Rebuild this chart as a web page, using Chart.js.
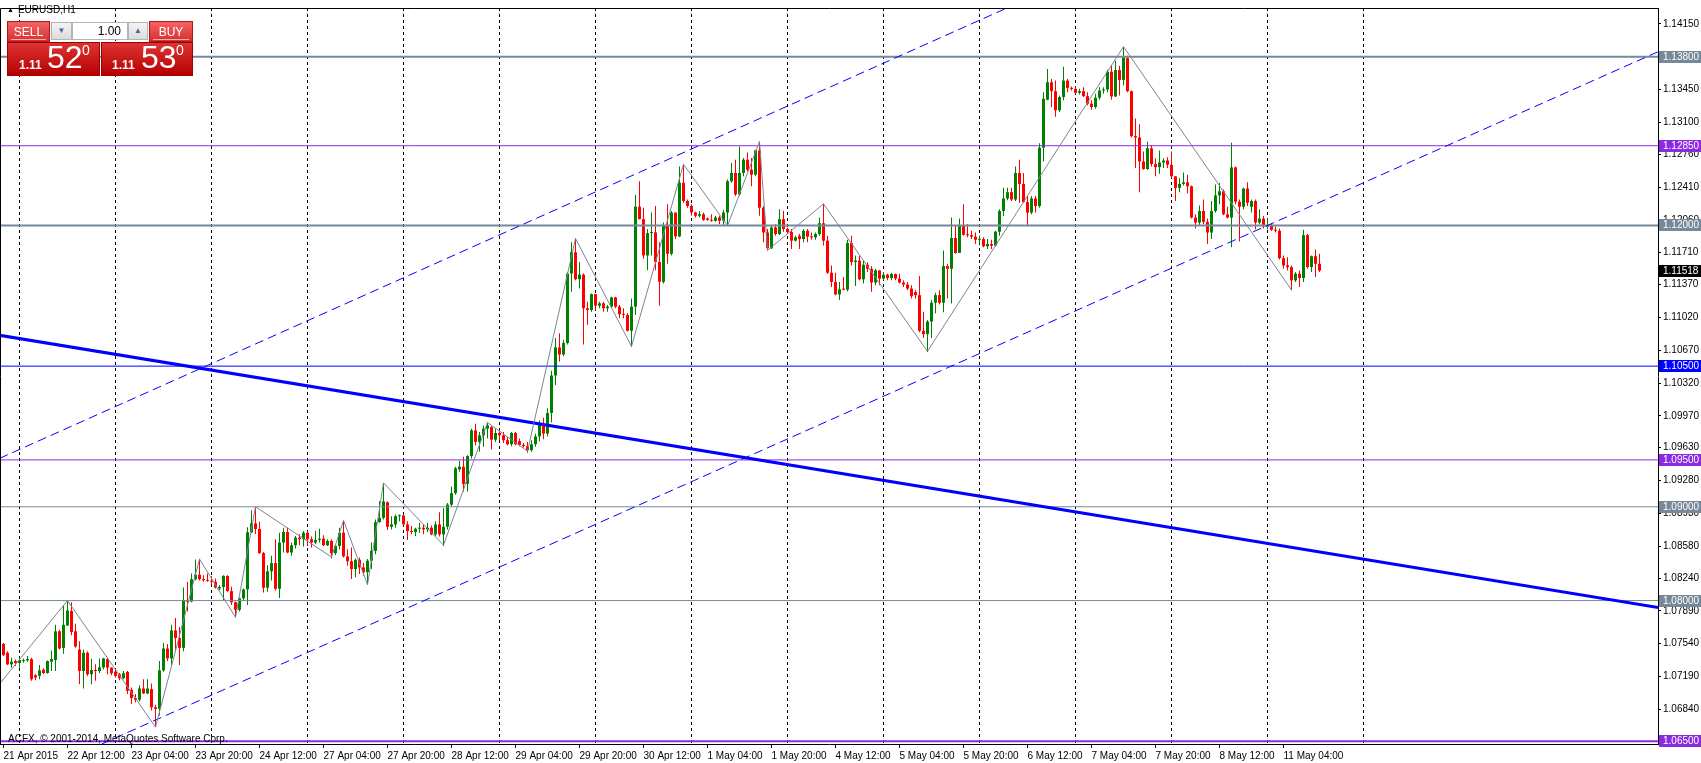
<!DOCTYPE html>
<html>
<head>
<meta charset="utf-8">
<title>EURUSD,H1</title>
<script src="https://cdn.jsdelivr.net/npm/chart.js@4.4.1/dist/chart.umd.min.js"></script>
<style>
  body { margin: 0; background: #fff; }
  #wrap { position: relative; width: 1701px; height: 763px; overflow: hidden; font-family: "Liberation Sans", Arial, sans-serif; }
  #chart { display: block; }
  .ov { position: absolute; white-space: nowrap; color: #fff; }
  #symbol { left: 7px; top: 4px; color: #000; font-size: 10px; }
  #symbol span { font-size: 7px; margin-right: 4px; vertical-align: 1px; }
  .top { top: 21px; height: 21px; line-height: 20px; font-size: 12px; text-align: center;
         background: linear-gradient(#f46464, #d83030); border: 1px solid #b01818; box-sizing: border-box; }
  .top div { position: absolute; left: 3px; right: 3px; bottom: 1px; border-bottom: 1px solid #f6b0b0; }
  .low { top: 42px; height: 34px; background: linear-gradient(#de3434, #b60000); border: 1px solid #9c0000; box-sizing: border-box; }
  .lot { top: 22px; height: 18px; box-sizing: border-box; border: 1px solid #b4b4b4; }
  .arr { background: linear-gradient(#f4f4f4, #dcdcdc); color: #5060a0; font-size: 8px; text-align: center; line-height: 16px; }
  #copy { left: 8px; top: 733px; color: #000; font-size: 10px; }
</style>
</head>
<body>
<div id="wrap">
  <canvas id="chart" width="1701" height="763"></canvas>

  <div class="ov" id="symbol"><span>&#9650;</span>EURUSD,H1</div>

  <div class="ov top" style="left:7px;width:43px;">SELL<div></div></div>
  <div class="ov lot arr" style="left:51px;width:21px;">&#9660;</div>
  <div class="ov lot" style="left:72px;width:56px;background:#fff;color:#000;font-size:12px;text-align:right;padding-right:6px;line-height:16px;">1.00</div>
  <div class="ov lot arr" style="left:128px;width:20px;">&#9650;</div>
  <div class="ov top" style="left:149px;width:44px;">BUY<div></div></div>

  <div class="ov low" style="left:7px;width:93px;"></div>
  <div class="ov low" style="left:101px;width:92px;"></div>
  <div class="ov" style="left:19px;top:58px;font-size:12px;font-weight:bold;">1.11</div>
  <div class="ov" style="left:47px;top:41px;font-size:32px;line-height:32px;">52</div>
  <div class="ov" style="left:82px;top:43px;font-size:14px;line-height:14px;">0</div>
  <div class="ov" style="left:112px;top:58px;font-size:12px;font-weight:bold;">1.11</div>
  <div class="ov" style="left:141px;top:41px;font-size:32px;line-height:32px;">53</div>
  <div class="ov" style="left:176px;top:43px;font-size:14px;line-height:14px;">0</div>

  <div class="ov" id="copy">ACFX, &copy; 2001-2014, MetaQuotes Software Corp.</div>
</div>

<script>
// EURUSD H1 bars, bar 0 = 21 Apr 2015 20:00
const opens = [
  1.07538,1.07443,1.07320,1.07355,1.07334,1.07355,1.07362,1.07376,1.07204,1.07197,
  1.07263,1.07228,1.07348,1.07366,1.07672,1.07496,1.07735,1.07890,1.07672,1.07478,
  1.07249,1.07443,1.07214,1.07260,1.07249,1.07288,1.07376,1.07285,1.07242,1.07214,
  1.07172,1.07239,1.07049,1.06961,1.06943,1.07063,1.07010,1.07056,1.06862,1.06845,
  1.07256,1.07489,1.07383,1.07682,1.07601,1.07496,1.08006,1.07989,1.08228,1.08277,
  1.08228,1.08218,1.08210,1.08200,1.08130,1.08144,1.08263,1.08101,1.07982,1.07901,
  1.08024,1.08119,1.08728,1.08823,1.08763,1.08506,1.08137,1.08312,1.08400,1.08126,
  1.08618,1.08731,1.08513,1.08590,1.08671,1.08654,1.08724,1.08654,1.08618,1.08647,
  1.08661,1.08590,1.08636,1.08506,1.08583,1.08724,1.08471,1.08420,1.08337,1.08435,
  1.08354,1.08302,1.08425,1.08530,1.08837,1.08882,1.09048,1.08787,1.08812,1.08900,
  1.08907,1.08812,1.08741,1.08730,1.08766,1.08777,1.08759,1.08777,1.08706,1.08812,
  1.08706,1.08787,1.09023,1.09146,1.09400,1.09428,1.09245,1.09541,1.09815,1.09692,
  1.09762,1.09833,1.09850,1.09716,1.09787,1.09762,1.09710,1.09667,1.09787,1.09700,
  1.09660,1.09646,1.09604,1.09667,1.09750,1.09880,1.09780,1.10000,1.10400,1.10700,
  1.10624,1.10747,1.11487,1.11715,1.11427,1.11476,1.11117,1.11099,1.11268,1.11145,
  1.11169,1.11117,1.11134,1.11233,1.11134,1.11053,1.11046,1.10877,1.11134,1.12201,
  1.12067,1.11680,1.11919,1.11926,1.11610,1.11399,1.11997,1.11698,1.12138,1.11884,
  1.12455,1.12261,1.12208,1.12138,1.12103,1.12120,1.12074,1.12060,1.12050,1.12085,
  1.12050,1.12138,1.12472,1.12560,1.12331,1.12560,1.12701,1.12595,1.12542,1.12800,
  1.12190,1.11926,1.11757,1.11979,1.11909,1.12067,1.11962,1.11930,1.11838,1.11890,
  1.11855,1.11943,1.11880,1.11873,1.11908,1.12024,1.11838,1.11496,1.11398,1.11264,
  1.11327,1.11315,1.11813,1.11609,1.11626,1.11426,1.11581,1.11538,1.11391,1.11521,
  1.11433,1.11475,1.11440,1.11482,1.11433,1.11391,1.11370,1.11327,1.11290,1.11257,
  1.10877,1.10841,1.10975,1.11176,1.11257,1.11176,1.11567,1.11538,1.11866,1.11707,
  1.12006,1.11901,1.11897,1.11880,1.11848,1.11855,1.11778,1.11802,1.11785,1.11933,
  1.12154,1.12288,1.12355,1.12277,1.12559,1.12443,1.12249,1.12137,1.12288,1.12207,
  1.12830,1.13341,1.13527,1.13432,1.13228,1.13369,1.13545,1.13467,1.13457,1.13414,
  1.13432,1.13379,1.13298,1.13263,1.13362,1.13439,1.13450,1.13640,1.13376,1.13657,
  1.13552,1.13784,1.13432,1.12953,1.12939,1.12682,1.12601,1.12823,1.12654,1.12622,
  1.12672,1.12693,1.12647,1.12524,1.12401,1.12443,1.12460,1.12418,1.12084,1.12031,
  1.12154,1.12038,1.11925,1.12154,1.12320,1.12365,1.12119,1.12084,1.12619,1.12253,
  1.12200,1.12394,1.12200,1.12260,1.12031,1.12073,1.11988,1.12006,1.11953,1.11943,
  1.11651,1.11574,1.11556,1.11415,1.11485,1.11440,1.11897,1.11556,1.11672,1.11591
];
const highs = [
  1.07549,1.07461,1.07390,1.07373,1.07397,1.07383,1.07408,1.07390,1.07214,1.07313,
  1.07278,1.07362,1.07468,1.07742,1.07689,1.07946,1.07996,1.07982,1.07753,1.07566,
  1.07478,1.07461,1.07380,1.07320,1.07383,1.07390,1.07390,1.07288,1.07249,1.07228,
  1.07249,1.07249,1.07074,1.07003,1.07098,1.07161,1.07161,1.07116,1.06890,1.07355,
  1.07549,1.07538,1.07742,1.07813,1.07718,1.08140,1.08200,1.08288,1.08439,1.08446,
  1.08270,1.08288,1.08260,1.08235,1.08165,1.08270,1.08270,1.08147,1.07989,1.08031,
  1.08130,1.08781,1.08964,1.08992,1.08840,1.08517,1.08376,1.08478,1.08654,1.08724,
  1.08777,1.08777,1.08618,1.08689,1.08706,1.08741,1.08741,1.08682,1.08741,1.08766,
  1.08696,1.08654,1.08650,1.08590,1.08777,1.08847,1.08548,1.08566,1.08450,1.08460,
  1.08400,1.08443,1.08618,1.08865,1.09058,1.09255,1.09058,1.08900,1.08917,1.08917,
  1.08917,1.08847,1.08794,1.08777,1.08830,1.08812,1.08830,1.08801,1.08847,1.08942,
  1.08988,1.09041,1.09217,1.09428,1.09491,1.09534,1.09551,1.09833,1.09886,1.09798,
  1.09868,1.09899,1.09860,1.09833,1.09815,1.09798,1.09745,1.09798,1.09798,1.09727,
  1.09681,1.09692,1.09710,1.09780,1.09920,1.09950,1.10050,1.10450,1.10800,1.10850,
  1.10782,1.11504,1.11821,1.11863,1.11610,1.11487,1.11187,1.11275,1.11268,1.11187,
  1.11187,1.11152,1.11240,1.11240,1.11152,1.11117,1.11064,1.11222,1.12324,1.12472,
  1.12190,1.11962,1.12138,1.12208,1.11821,1.12032,1.12226,1.12155,1.12138,1.12630,
  1.12655,1.12278,1.12226,1.12145,1.12155,1.12138,1.12085,1.12120,1.12103,1.12103,
  1.12166,1.12490,1.12666,1.12701,1.12842,1.12718,1.12778,1.12718,1.12807,1.12894,
  1.12208,1.11962,1.11997,1.12014,1.12173,1.12155,1.11975,1.11962,1.11891,1.11908,
  1.11961,1.11961,1.11926,1.11926,1.12084,1.12232,1.11890,1.11574,1.11496,1.11398,
  1.11450,1.11848,1.11890,1.11679,1.11679,1.11626,1.11609,1.11567,1.11538,1.11521,
  1.11503,1.11485,1.11496,1.11489,1.11485,1.11415,1.11398,1.11362,1.11310,1.11461,
  1.11081,1.10993,1.11204,1.11283,1.11310,1.11732,1.11591,1.12084,1.11996,1.12073,
  1.12225,1.12013,1.11943,1.11926,1.11890,1.11873,1.11855,1.11848,1.11943,1.12172,
  1.12401,1.12401,1.12401,1.12630,1.12700,1.12559,1.12313,1.12313,1.12313,1.12876,
  1.13421,1.13668,1.13562,1.13545,1.13386,1.13693,1.13562,1.13481,1.13481,1.13457,
  1.13474,1.13421,1.13334,1.13404,1.13474,1.13474,1.13661,1.13703,1.13756,1.13703,
  1.13904,1.13809,1.13439,1.13140,1.13080,1.12788,1.12893,1.12858,1.12717,1.12798,
  1.12717,1.12728,1.12788,1.12524,1.12506,1.12566,1.12541,1.12425,1.12119,1.12214,
  1.12277,1.12073,1.12260,1.12436,1.12453,1.12383,1.12200,1.12883,1.12630,1.12277,
  1.12401,1.12460,1.12277,1.12277,1.12172,1.12102,1.12073,1.12024,1.11988,1.11967,
  1.11679,1.11661,1.11574,1.11503,1.11521,1.11953,1.11908,1.11679,1.11743,1.11697
];
const lows = [
  1.07408,1.07313,1.07285,1.07302,1.07285,1.07337,1.07348,1.07144,1.07151,1.07161,
  1.07214,1.07221,1.07249,1.07249,1.07478,1.07433,1.07728,1.07630,1.07496,1.07109,
  1.07063,1.07197,1.07109,1.07144,1.07228,1.07267,1.07214,1.07204,1.07179,1.07151,
  1.07161,1.07003,1.06897,1.06915,1.06925,1.07003,1.07003,1.06827,1.06651,1.06774,
  1.07242,1.07355,1.07313,1.07461,1.07313,1.07461,1.07883,1.07982,1.08218,1.08214,
  1.08200,1.08200,1.08172,1.08130,1.08112,1.08006,1.08094,1.07953,1.07823,1.07883,
  1.07996,1.07953,1.08721,1.08710,1.08499,1.08087,1.08094,1.08213,1.08108,1.08027,
  1.08513,1.08506,1.08478,1.08555,1.08590,1.08576,1.08583,1.08566,1.08600,1.08618,
  1.08583,1.08583,1.08450,1.08485,1.08548,1.08460,1.08372,1.08231,1.08249,1.08284,
  1.08266,1.08168,1.08337,1.08495,1.08830,1.08865,1.08752,1.08759,1.08777,1.08847,
  1.08801,1.08647,1.08706,1.08689,1.08724,1.08706,1.08731,1.08696,1.08689,1.08682,
  1.08583,1.08759,1.09005,1.09129,1.09375,1.09164,1.09164,1.09516,1.09657,1.09586,
  1.09639,1.09727,1.09611,1.09692,1.09710,1.09681,1.09657,1.09646,1.09657,1.09646,
  1.09632,1.09576,1.09586,1.09640,1.09700,1.09720,1.09750,1.09900,1.10300,1.10550,
  1.10606,1.10730,1.11293,1.11416,1.11328,1.10730,1.10941,1.11081,1.11099,1.11117,
  1.11081,1.11081,1.11117,1.11117,1.11011,1.11011,1.10870,1.10705,1.11046,1.12067,
  1.11645,1.11522,1.11680,1.11522,1.11145,1.11381,1.11592,1.11680,1.11856,1.11874,
  1.12243,1.12190,1.12103,1.12085,1.12085,1.12050,1.12050,1.12039,1.12039,1.12014,
  1.11997,1.11997,1.12455,1.12314,1.12314,1.12525,1.12578,1.12419,1.12525,1.12103,
  1.11821,1.11733,1.11750,1.11891,1.11898,1.11933,1.11909,1.11750,1.11828,1.11749,
  1.11820,1.11820,1.11848,1.11848,1.11890,1.11785,1.11485,1.11345,1.11257,1.11204,
  1.11310,1.11299,1.11574,1.11355,1.11415,1.11380,1.11503,1.11292,1.11362,1.11362,
  1.11415,1.11415,1.11415,1.11415,1.11380,1.11345,1.11310,1.11222,1.11222,1.10862,
  1.10799,1.10651,1.10799,1.11063,1.11158,1.11074,1.11222,1.11169,1.11697,1.11707,
  1.11890,1.11873,1.11855,1.11802,1.11802,1.11767,1.11749,1.11749,1.11778,1.11890,
  1.12102,1.12270,1.12260,1.12260,1.12242,1.12242,1.11996,1.12119,1.12137,1.12189,
  1.12682,1.13334,1.13263,1.13158,1.13210,1.13334,1.13421,1.13439,1.13404,1.13397,
  1.13369,1.13281,1.13235,1.13245,1.13341,1.13404,1.13421,1.13341,1.13369,1.13386,
  1.13492,1.13421,1.12939,1.12612,1.12355,1.12594,1.12594,1.12630,1.12524,1.12552,
  1.12612,1.12612,1.12506,1.12260,1.12355,1.12425,1.12341,1.12073,1.11967,1.11996,
  1.12013,1.11802,1.11855,1.12137,1.12225,1.12109,1.12073,1.11767,1.12225,1.11830,
  1.12172,1.12207,1.12137,1.11960,1.12013,1.11967,1.11960,1.11943,1.11925,1.11637,
  1.11538,1.11521,1.11310,1.11398,1.11345,1.11398,1.11538,1.11503,1.11450,1.11503
];
const closes = [
  1.07418,1.07320,1.07348,1.07334,1.07366,1.07366,1.07376,1.07161,1.07179,1.07256,
  1.07228,1.07355,1.07376,1.07672,1.07489,1.07742,1.07894,1.07665,1.07510,1.07249,
  1.07443,1.07214,1.07260,1.07249,1.07288,1.07383,1.07285,1.07225,1.07197,1.07172,
  1.07225,1.07038,1.06961,1.06943,1.07063,1.07010,1.07063,1.06862,1.06845,1.07256,
  1.07489,1.07383,1.07682,1.07601,1.07496,1.08006,1.07989,1.08228,1.08277,1.08228,
  1.08218,1.08210,1.08200,1.08140,1.08144,1.08263,1.08101,1.07982,1.07901,1.08024,
  1.08119,1.08728,1.08823,1.08763,1.08506,1.08137,1.08312,1.08400,1.08126,1.08618,
  1.08731,1.08513,1.08590,1.08671,1.08654,1.08724,1.08654,1.08618,1.08647,1.08661,
  1.08590,1.08636,1.08506,1.08583,1.08724,1.08471,1.08420,1.08337,1.08435,1.08354,
  1.08302,1.08425,1.08530,1.08837,1.08882,1.09058,1.08787,1.08812,1.08900,1.08907,
  1.08812,1.08741,1.08730,1.08766,1.08777,1.08759,1.08777,1.08706,1.08812,1.08706,
  1.08787,1.09023,1.09146,1.09410,1.09428,1.09245,1.09541,1.09815,1.09692,1.09762,
  1.09833,1.09868,1.09716,1.09787,1.09762,1.09710,1.09667,1.09787,1.09667,1.09660,
  1.09646,1.09604,1.09667,1.09750,1.09880,1.09780,1.10000,1.10400,1.10700,1.10624,
  1.10747,1.11487,1.11715,1.11427,1.11476,1.11117,1.11099,1.11268,1.11145,1.11169,
  1.11117,1.11134,1.11233,1.11134,1.11053,1.11046,1.10877,1.11134,1.12201,1.12067,
  1.11680,1.11919,1.11926,1.11610,1.11399,1.11997,1.11698,1.12138,1.11884,1.12455,
  1.12261,1.12208,1.12138,1.12103,1.12120,1.12060,1.12060,1.12050,1.12085,1.12050,
  1.12138,1.12472,1.12560,1.12331,1.12560,1.12701,1.12595,1.12542,1.12800,1.12190,
  1.11926,1.11757,1.11979,1.11909,1.12067,1.11962,1.11930,1.11838,1.11874,1.11855,
  1.11943,1.11880,1.11873,1.11908,1.12024,1.11838,1.11496,1.11398,1.11264,1.11320,
  1.11315,1.11813,1.11609,1.11626,1.11426,1.11581,1.11538,1.11391,1.11521,1.11433,
  1.11475,1.11440,1.11482,1.11433,1.11391,1.11370,1.11327,1.11246,1.11257,1.10877,
  1.10841,1.10975,1.11176,1.11257,1.11176,1.11567,1.11538,1.11866,1.11707,1.12006,
  1.11901,1.11897,1.11880,1.11848,1.11855,1.11778,1.11802,1.11785,1.11933,1.12154,
  1.12288,1.12355,1.12277,1.12559,1.12443,1.12249,1.12137,1.12288,1.12207,1.12830,
  1.13351,1.13527,1.13432,1.13228,1.13369,1.13545,1.13467,1.13457,1.13414,1.13432,
  1.13379,1.13298,1.13263,1.13362,1.13439,1.13450,1.13640,1.13376,1.13657,1.13552,
  1.13791,1.13432,1.12953,1.12939,1.12682,1.12601,1.12823,1.12654,1.12622,1.12672,
  1.12693,1.12647,1.12524,1.12401,1.12443,1.12460,1.12418,1.12084,1.12031,1.12154,
  1.12038,1.11925,1.12154,1.12320,1.12365,1.12119,1.12084,1.12619,1.12253,1.12200,
  1.12394,1.12242,1.12260,1.12031,1.12073,1.11988,1.12006,1.11953,1.11943,1.11651,
  1.11574,1.11556,1.11415,1.11485,1.11440,1.11897,1.11556,1.11672,1.11591,1.11518
];

// time axis: one label every 16 bars, dashed separator at each midnight
const xTickLabels = ['21 Apr 2015', '22 Apr 12:00', '23 Apr 04:00', '23 Apr 20:00', '24 Apr 12:00',
  '27 Apr 04:00', '27 Apr 20:00', '28 Apr 12:00', '29 Apr 04:00', '29 Apr 20:00', '30 Apr 12:00',
  '1 May 04:00', '1 May 20:00', '4 May 12:00', '5 May 04:00', '5 May 20:00', '6 May 12:00',
  '7 May 04:00', '7 May 20:00', '8 May 12:00', '11 May 04:00'];
const labelStep = 16;
const midnightBars = [4, 28, 52, 76, 100, 124, 148, 172, 196, 220, 244, 268, 292, 316, 340];

// price axis
const yTicks = [1.14150, 1.13800, 1.13450, 1.13100, 1.12760, 1.12410, 1.12060, 1.11710, 1.11370,
  1.11020, 1.10670, 1.10320, 1.09970, 1.09630, 1.09280, 1.08930, 1.08580, 1.08240, 1.07890,
  1.07540, 1.07190, 1.06840];
const priceMin = 1.064707, priceMax = 1.143188;
const barMin = -0.875, barMax = 413.625;

// horizontal levels
const levelPrices = [1.13800, 1.12850, 1.12000, 1.10500, 1.09500, 1.09000, 1.08000, 1.06500];
const levelKinds = ['gray2', 'purple', 'gray2', 'blue', 'purple', 'gray1', 'gray1', 'purple2'];

// zigzag pivots (bar, price)
const zzBars = [-1, 16, 38, 49, 58, 63, 82, 85, 91, 95, 110, 121, 131, 143, 157, 170, 181, 189, 191, 205, 231, 280, 322];
const zzPrices = [1.07110, 1.08000, 1.06650, 1.08443, 1.07821, 1.09000, 1.08464, 1.08855, 1.08169, 1.09255,
  1.08591, 1.09899, 1.09593, 1.11861, 1.10711, 1.12652, 1.11998, 1.12895, 1.11734, 1.12230, 1.10658,
  1.13907, 1.11312];

// trend lines, given at both chart edges (bar, price)
const trendBars = [-1, 414];
const trendPrices = [1.10829, 1.07923];
const channelUpPrices = [1.09516, 1.17430];
const channelLowPrices = [1.05986, 1.13859];

const lastPrice = closes[closes.length - 1];

const kindStyle = {
  gray2:   { color: '#778899', width: 2 },
  gray1:   { color: '#778899', width: 1 },
  purple:  { color: '#8a2be2', width: 1 },
  purple2: { color: '#8a2be2', width: 2 },
  blue:    { color: '#0000ff', width: 1 }
};
const upColor = '#008000';
const downColor = '#ff0000';
const candleColors = closes.map((c, i) => c >= opens[i] ? upColor : downColor);

Chart.defaults.font.family = '"Liberation Sans", Arial, sans-serif';
Chart.defaults.font.size = 10;
Chart.defaults.color = '#000';

const datasets = [];

// candle wicks and bodies
datasets.push({
  type: 'bar',
  data: closes.map((c, i) => ({ x: i, y: [lows[i], highs[i]] })),
  backgroundColor: candleColors,
  barThickness: 1,
  grouped: false,
  inflateAmount: 0,
  borderWidth: 0,
  order: 20
});
datasets.push({
  type: 'bar',
  data: closes.map((c, i) => ({ x: i, y: [opens[i], c] })),
  backgroundColor: candleColors,
  barThickness: 3,
  minBarLength: 1,
  grouped: false,
  inflateAmount: 0,
  borderWidth: 0,
  order: 19
});

// horizontal levels
levelPrices.forEach((p, i) => {
  const st = kindStyle[levelKinds[i]];
  datasets.push({
    type: 'line',
    data: [{ x: barMin, y: p }, { x: barMax, y: p }],
    borderColor: st.color,
    borderWidth: st.width,
    pointRadius: 0,
    clip: 0,
    order: 5
  });
});

function edgeLine(prices, color, width, dash) {
  return {
    type: 'line',
    data: trendBars.map((b, i) => ({ x: b, y: prices[i] })),
    borderColor: color,
    borderWidth: width,
    borderDash: dash,
    pointRadius: 0,
    clip: 0,
    order: 4
  };
}
datasets.push(edgeLine(trendPrices, '#0000ff', 3, []));
datasets.push(edgeLine(channelUpPrices, '#0000ff', 1, [9, 5]));
datasets.push(edgeLine(channelLowPrices, '#0000ff', 1, [9, 5]));

// zigzag
datasets.push({
  type: 'line',
  data: zzBars.map((b, i) => ({ x: b, y: zzPrices[i] })),
  borderColor: '#7a8594',
  borderWidth: 1,
  pointRadius: 0,
  tension: 0,
  clip: 0,
  order: 2
});

// left and top frame of the plot
const framePlugin = {
  id: 'frame',
  afterDraw(chart) {
    const a = chart.chartArea, ctx = chart.ctx;
    ctx.save();
    ctx.strokeStyle = '#000';
    ctx.lineWidth = 1;
    ctx.beginPath();
    ctx.moveTo(a.left + 0.5, a.bottom);
    ctx.lineTo(a.left + 0.5, a.top + 0.5);
    ctx.lineTo(a.right, a.top + 0.5);
    ctx.stroke();
    ctx.restore();
  }
};

// coloured price boxes on the price scale
const priceTagPlugin = {
  id: 'priceTags',
  afterDraw(chart) {
    const ctx = chart.ctx, ys = chart.scales.y, a = chart.chartArea;
    const tags = levelPrices.map((p, i) => [p, kindStyle[levelKinds[i]].color]);
    tags.push([lastPrice, '#000']);
    ctx.save();
    ctx.font = '10px "Liberation Sans", Arial, sans-serif';
    ctx.textBaseline = 'middle';
    tags.forEach(([p, c]) => {
      const py = Math.round(ys.getPixelForValue(p));
      ctx.fillStyle = c;
      ctx.fillRect(a.right + 1, py - 6, chart.width - a.right - 1, 12);
      ctx.fillStyle = '#fff';
      ctx.fillText(p.toFixed(5), a.right + 5, py + 0.5);
    });
    ctx.restore();
  }
};

new Chart(document.getElementById('chart'), {
  type: 'bar',
  data: { datasets: datasets },
  options: {
    responsive: false,
    animation: false,
    events: [],
    layout: { padding: 0 },
    plugins: { legend: { display: false }, tooltip: { enabled: false } },
    scales: {
      x: {
        type: 'linear',
        position: 'bottom',
        min: barMin,
        max: barMax,
        offset: false,
        afterBuildTicks: scale => {
          scale.ticks = xTickLabels.map((l, i) => ({ value: i * labelStep }));
        },
        afterFit: scale => { scale.height = 19; },
        ticks: {
          autoSkip: false,
          maxRotation: 0,
          align: 'start',
          padding: 2,
          callback: v => xTickLabels[Math.round(v / labelStep)]
        },
        grid: { offset: false, drawOnChartArea: false, drawTicks: true, tickLength: 4, color: '#000' },
        border: { display: true, color: '#000', width: 1 }
      },
      xg: {
        type: 'linear',
        position: 'top',
        min: barMin,
        max: barMax,
        offset: false,
        afterBuildTicks: scale => {
          scale.ticks = midnightBars.map(b => ({ value: b }));
        },
        afterFit: scale => { scale.height = 0; },
        ticks: { display: false },
        grid: { offset: false, drawOnChartArea: true, drawTicks: false, color: '#000', lineWidth: 1 },
        border: { display: false, dash: [3, 3] }
      },
      y: {
        type: 'linear',
        position: 'right',
        min: priceMin,
        max: priceMax,
        beginAtZero: false,
        afterBuildTicks: scale => {
          scale.ticks = yTicks.map(v => ({ value: v }));
        },
        afterFit: scale => { scale.width = 43; },
        ticks: {
          autoSkip: false,
          padding: 2,
          callback: v => v.toFixed(5)
        },
        grid: { drawOnChartArea: false, drawTicks: true, tickLength: 3, color: '#000' },
        border: { display: true, color: '#000', width: 1 }
      }
    }
  },
  plugins: [framePlugin, priceTagPlugin]
});
</script>
</body>
</html>
